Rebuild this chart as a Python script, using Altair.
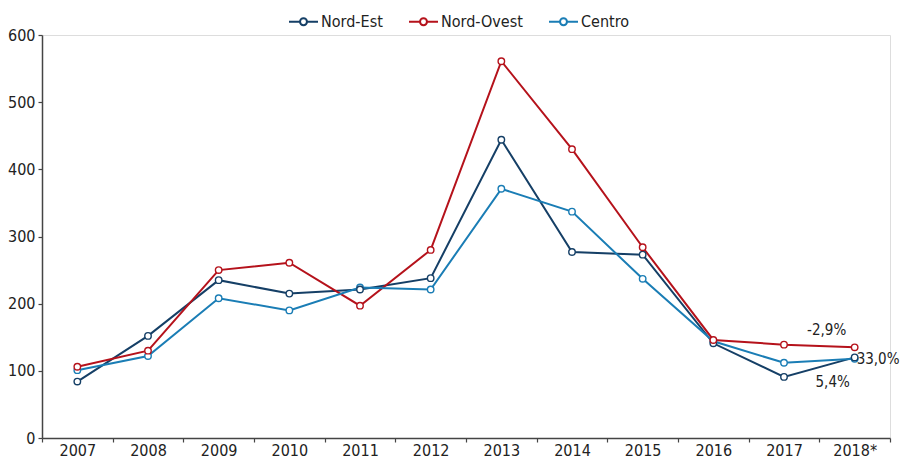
import altair as alt
import pandas as pd

years = ["2007", "2008", "2009", "2010", "2011", "2012", "2013", "2014", "2015", "2016", "2017", "2018*"]
series = ["Nord-Est", "Nord-Ovest", "Centro"]
colors = ["#153f66", "#b5121b", "#1a7db5"]
nord_est = [84, 152, 235, 215, 221, 238, 444, 277, 273, 141, 91, 120]
nord_ovest = [106, 130, 250, 261, 197, 280, 561, 430, 284, 146, 139, 135]
centro = [101, 122, 208, 190, 224, 221, 371, 337, 237, 144, 112, 118]

ann_text = ["-2,9%", "33,0%", "5,4%"]
ann_series = ["Nord-Ovest", "Nord-Est", "Centro"]

rows = []
for name, vals in zip(series, [nord_est, nord_ovest, centro]):
    for y, v in zip(years, vals):
        rows.append({"year": y, "series": name, "value": v})
df = pd.DataFrame(rows)

last = years[-1]
ann_vals = {n: v[-1] for n, v in zip(series, [nord_est, nord_ovest, centro])}
ann_df = pd.DataFrame({
    "year": [last] * 3,
    "value": [ann_vals[s] for s in ann_series],
    "label": ann_text,
})

FONT = "DejaVu Sans Condensed"
FS = 16
TXT = "#222222"
AX = "#444444"

xenc = alt.X("year:O", sort=years,
             scale=alt.Scale(type="band", paddingInner=0, paddingOuter=0),
             bandPosition=0.5,
             axis=alt.Axis(title=None, labelAngle=0, tickBand="extent",
                           labelFontSize=FS, labelColor=TXT, labelFont=FONT,
                           domainColor=AX, domainWidth=1.5,
                           tickColor=AX, tickSize=4, tickWidth=1.2,
                           labelPadding=0))
yenc = alt.Y("value:Q", scale=alt.Scale(domain=[0, 600], nice=False),
             axis=alt.Axis(title=None, values=[0, 100, 200, 300, 400, 500, 600],
                           grid=False, labelFontSize=FS, labelColor=TXT, labelFont=FONT,
                           domainColor=AX, domainWidth=1.5,
                           tickColor=AX, tickSize=4, tickWidth=1.2,
                           labelPadding=3))

sym = "M-1,0L-0.24,0M0.24,0L1,0M-0.24,0A0.24,0.24,0,1,0,0.24,0A0.24,0.24,0,1,0,-0.24,0"
cenc = alt.Color("series:N", scale=alt.Scale(domain=series, range=colors),
                 legend=alt.Legend(title=None, orient="none", direction="horizontal",
                                   legendX=246, legendY=-29, padding=0,
                                   symbolType=sym, symbolSize=841,
                                   symbolStrokeWidth=2, symbolFillColor="white",
                                   labelFontSize=FS, labelColor=TXT, labelFont=FONT,
                                   labelOffset=2, columnPadding=22))

base = alt.Chart(df).encode(x=xenc, y=yenc, color=cenc,
                            order=alt.Order("series:N"))
lines = base.mark_line(strokeWidth=2)
points = base.mark_point(shape="circle", filled=False, fill="white", fillOpacity=1,
                         opacity=1, size=42, strokeWidth=1.4)

abase = alt.Chart(ann_df).encode(
    x=alt.X("year:O", sort=years, bandPosition=0.5),
    y=alt.Y("value:Q"),
    text="label:N",
)
AFS = 15
a1 = abase.transform_filter(alt.datum.label == ann_text[0]).mark_text(
    font=FONT, fontSize=AFS, color=TXT, align="center", baseline="middle", dx=-28, dy=-17)
a2 = abase.transform_filter(alt.datum.label == ann_text[1]).mark_text(
    font=FONT, fontSize=AFS, color=TXT, align="left", baseline="middle", dx=2, dy=2)
a3 = abase.transform_filter(alt.datum.label == ann_text[2]).mark_text(
    font=FONT, fontSize=AFS, color=TXT, align="center", baseline="middle", dx=-22, dy=23)

chart = alt.layer(lines, points, a1, a2, a3).properties(
    width=848, height=403,
    padding={"left": 34, "top": 27, "right": 11, "bottom": 20},
    autosize=alt.AutoSizeParams(type="none"),
).configure_view(stroke=None).configure(background="white")

chart.save("out.html", embed_options={"renderer": "svg", "actions": False})
